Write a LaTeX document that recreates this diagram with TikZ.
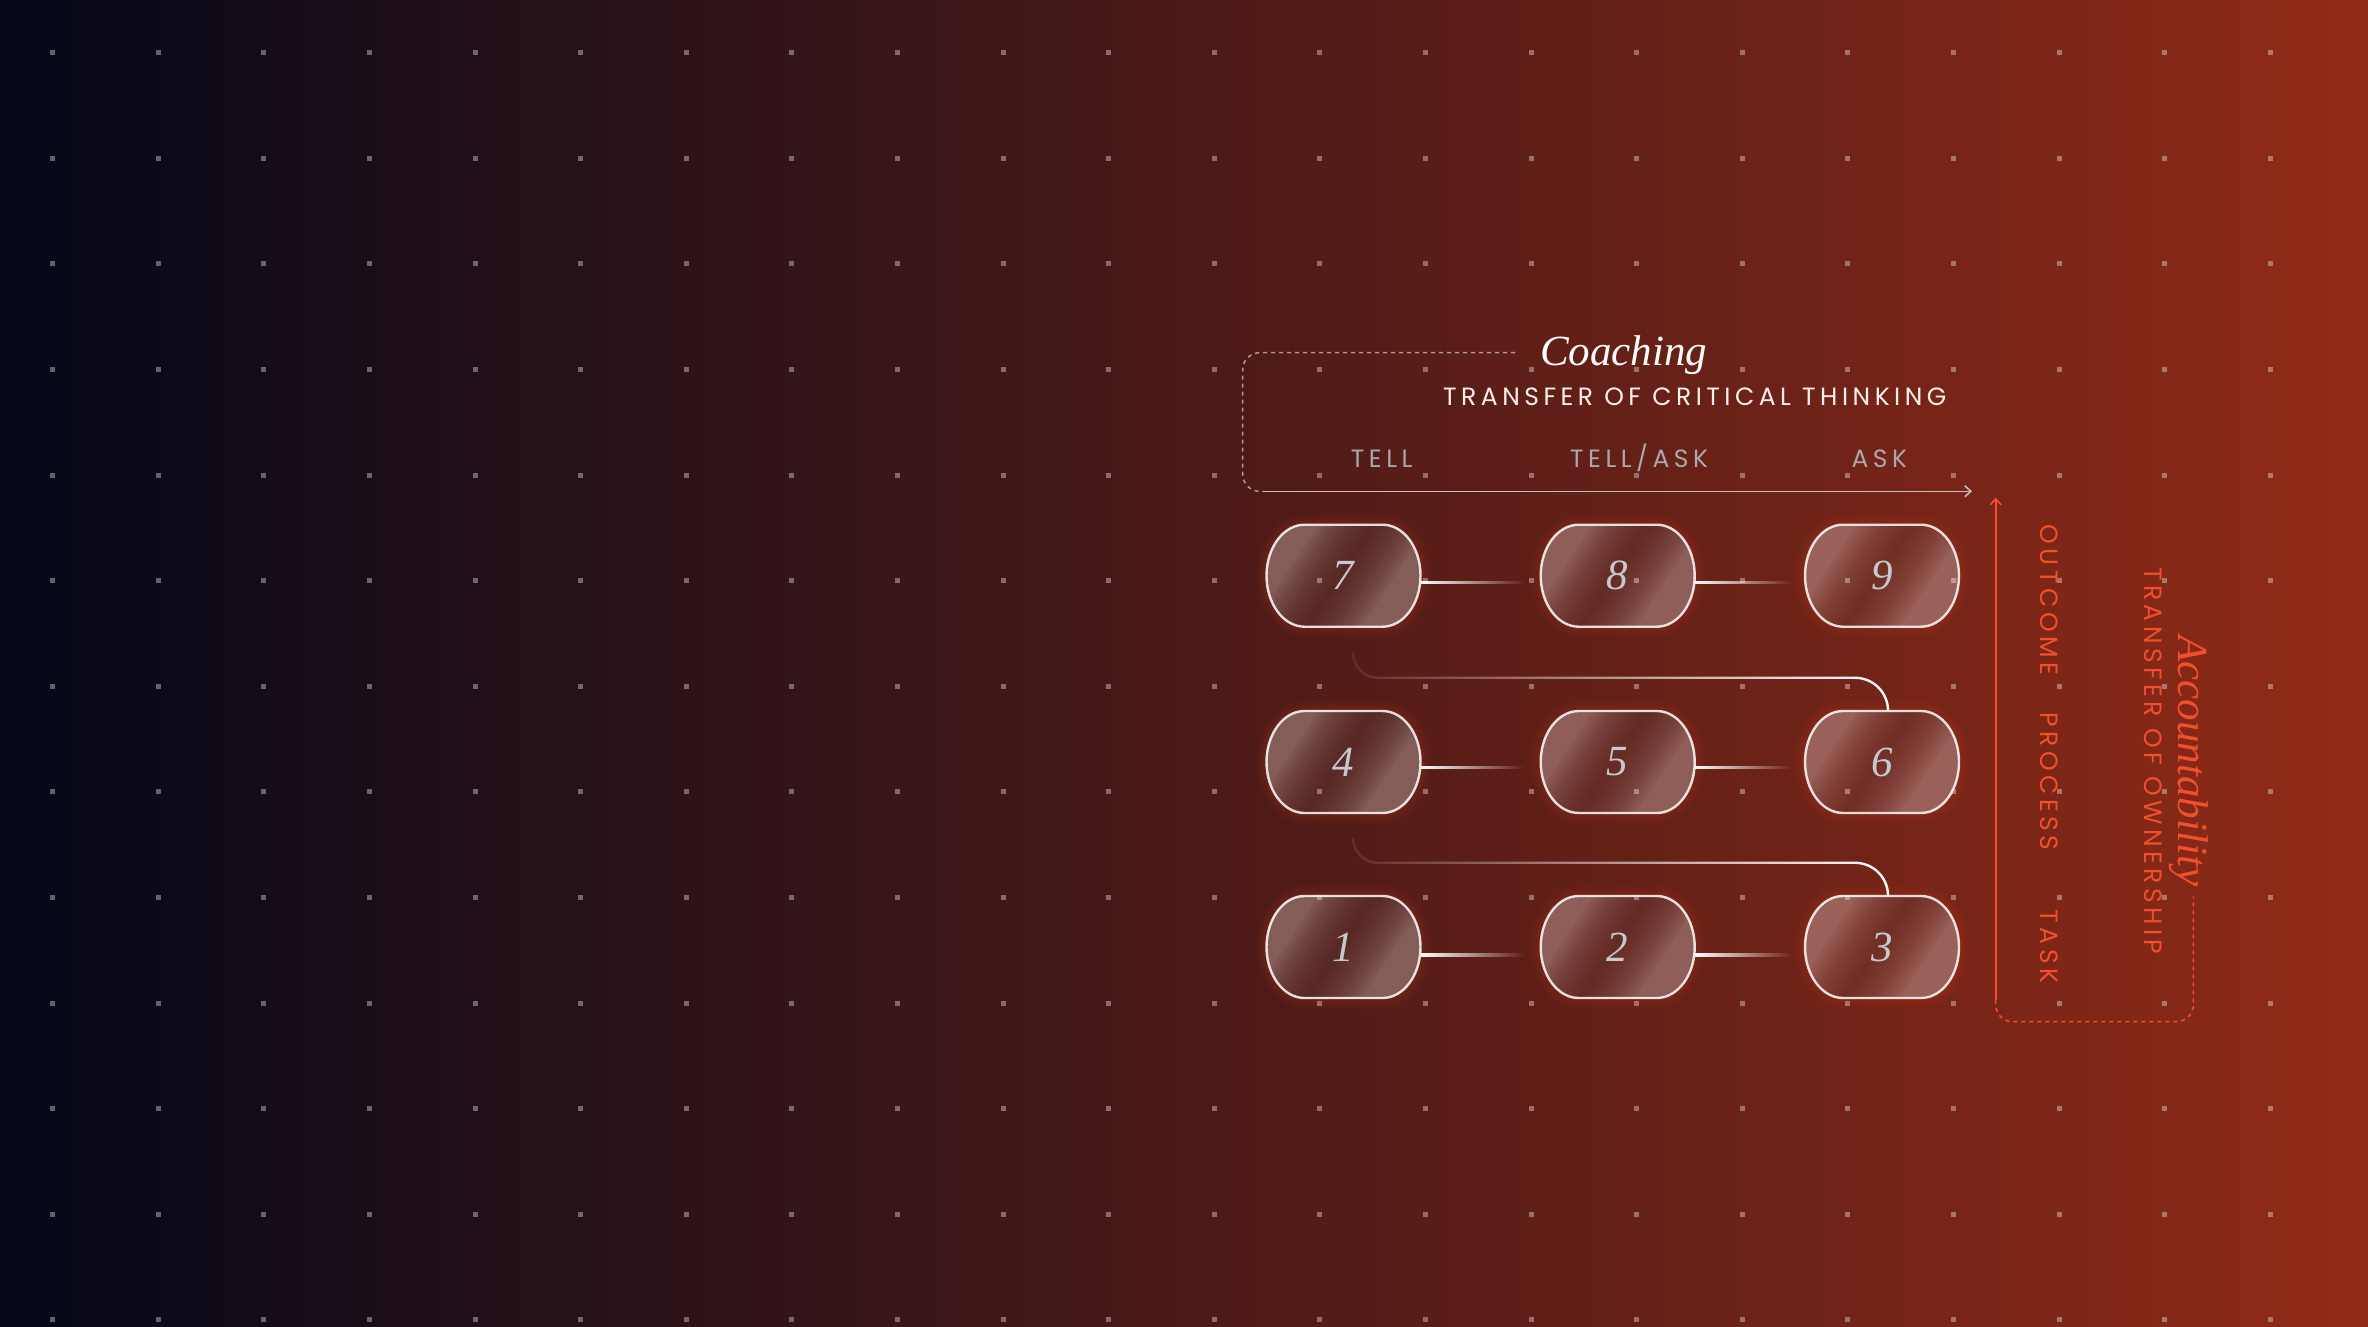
\documentclass[tikz,border=0pt]{standalone}
\usepackage{fontspec}
\setmainfont{Liberation Serif}
\newfontfamily\capsfont{Poppins}[LetterSpace=18]
\usetikzlibrary{arrows.meta,fadings,calc}
\definecolor{bgL}{HTML}{040818}
\definecolor{bgR}{HTML}{902B17}
\colorlet{bgca}{bgR!57!bgL}
\colorlet{bgcb}{bgR!68!bgL}
\colorlet{bgcc}{bgR!79!bgL}
\definecolor{numcol}{HTML}{C5C9CE}
\definecolor{redtxt}{HTML}{F2502C}
\definecolor{greytxt}{HTML}{ABA7AC}
\definecolor{glowcol}{HTML}{E0452A}
\definecolor{linegrey}{HTML}{C9BCBC}
\tikzfading[name=fadeoutright, left color=transparent!0, right color=transparent!100]
\tikzfading[name=fadeinright, left color=transparent!92, right color=transparent!0]
\newcommand\gshp[2]{(#1-39,#2+51) -- (#1+39,#2+51) arc[start angle=90,end angle=-90,x radius=38,y radius=51] -- (#1-39,#2-51) arc[start angle=270,end angle=90,x radius=38,y radius=51] -- cycle}
\newcommand\glassnode[5]{% name, x, y, label, local background colour
  \foreach \gw in {20,13,8}{\draw[glowcol, line width=\gw, draw opacity=0.05] \gshp{#2}{#3};}
  \begin{scope}
    \clip \gshp{#2}{#3};
    \fill[white!28!#5] (#2-80,#3-55) rectangle (#2+80,#3+55);
    \foreach \h in {3,7,...,55}{\fill[#5!90!black, fill opacity=0.085] (#2-43-\h,#3-60) -- (#2-43+\h,#3-60) -- (#2+36+\h,#3+60) -- (#2+36-\h,#3+60) -- cycle;}
  \end{scope}
  \draw[glassrim] \gshp{#2}{#3};
  \node[numtext] (#1) at (#2,#3) {#4};
}
\newcommand\rowlink[4]{% from node, to node, gap, y offset
  \begin{scope}
  \clip ($(#1.east)+(0,#4-1.2)$) rectangle ($(#2.west)+(-#3,#4+1.2)$);
  \fill[white, path fading=fadeoutright] ($(#1.east)+(0,#4-25)$) rectangle ($(#2.west)+(-#3,#4+25)$);
  \end{scope}}
\begin{document}
\begin{tikzpicture}[x=1pt,y=1pt,
  dotmark/.style={fill=white, fill opacity=0.36},
  glassrim/.style={draw=white, draw opacity=0.85, line width=2.4},
  numtext/.style={rectangle, minimum width=154, minimum height=102, inner sep=0, text=numcol, font=\fontsize{43}{45}\selectfont\itshape},
  coachtxt/.style={inner sep=0, text=white, font=\fontsize{43}{45}\selectfont\itshape},
  acctxt/.style={inner sep=0, text=redtxt, font=\fontsize{43}{45}\selectfont\itshape},
  capsw/.style={inner sep=0, text=white!94!red, font=\fontsize{25}{27}\selectfont\capsfont},
  capsg/.style={inner sep=0, text=greytxt, font=\fontsize{25}{27}\selectfont\capsfont},
  capsr/.style={inner sep=0, text=redtxt, font=\fontsize{25}{27}\selectfont\capsfont},
  snake/.style={draw=white, line width=2.4, path fading=fadeinright},
  greydash/.style={draw=linegrey, draw opacity=0.8, line width=1.5, dash pattern=on 4 off 4},
  greyline/.style={draw=linegrey, line width=1.6},
  redline/.style={draw=redtxt, line width=1.6},
  reddash/.style={draw=redtxt, line width=1.5, dash pattern=on 4 off 4},
  tip/.style={-{Straight Barb[length=6,width=11]}}
]
\useasboundingbox (0,0) rectangle (2368,-1327);
\shade[left color=bgL, right color=bgR] (0,0) rectangle (2368,-1327);
% nodes
\glassnode{n7}{1343.5}{-575.7}{7}{bgca}
\glassnode{n8}{1617.7}{-575.7}{8}{bgcb}
\glassnode{n9}{1882}{-575.7}{9}{bgcc}
\glassnode{n4}{1343.5}{-762}{4}{bgca}
\glassnode{n5}{1617.7}{-762}{5}{bgcb}
\glassnode{n6}{1882}{-762}{6}{bgcc}
\glassnode{n1}{1343.5}{-947}{1}{bgca}
\glassnode{n2}{1617.7}{-947}{2}{bgcb}
\glassnode{n3}{1882}{-947}{3}{bgcc}
% dot grid
\foreach \i in {0,...,21}{\foreach \j in {0,...,12}{
  \fill[dotmark] (52.7+105.6*\i-2.5, -52.7-105.6*\j-2.5) rectangle ++(5,5);
}}
% row links
\rowlink{n7}{n8}{16}{-7}
\rowlink{n8}{n9}{13}{-7}
\rowlink{n4}{n5}{16}{-5.7}
\rowlink{n5}{n6}{13}{-5.7}
\rowlink{n1}{n2}{16}{-8}
\rowlink{n2}{n3}{13}{-8}
% snake links
\draw[snake] ($(n6.north)+(6,0)$) arc[start angle=0,end angle=90,radius=33] -- ++(-477,0) arc[start angle=270,end angle=180,radius=25];
\draw[snake] ($(n3.north)+(6,0)$) arc[start angle=0,end angle=90,radius=33] -- ++(-477,0) arc[start angle=270,end angle=180,radius=25];
% header
\node[coachtxt, anchor=base west] (coach) at (1540,-365) {Coaching};
\node[capsw, anchor=base west] (tcrit) at (1443,-405) {TRANSFER OF CRITICAL THINKING};
\node[capsg, anchor=base west] (tell) at (1350.7,-467.3) {TELL};
\node[capsg, anchor=base west] (tellask) at (1570,-467.3) {TELL/ASK};
\node[capsg, anchor=base west] (ask) at (1851.4,-467.3) {ASK};
\coordinate (cdash) at (1515,-352.7);
\coordinate (cstart) at (1263,-491.3);
\coordinate (cend) at (1972,-491.3);
\draw[greydash, rounded corners=17] (cdash) -- (1242.7,-352.7) -- (1242.7,-491.3) -- (cstart);
\draw[greyline, tip] (cstart) -- (cend);
% accountability side
\coordinate (abot) at (1995.7,-1000);
\coordinate (atop) at (1995.7,-497.7);
\coordinate (adash) at (2193.3,-896.7);
\draw[redline, tip] (abot) -- (atop);
\draw[reddash, rounded corners=17] (abot) -- (1995.7,-1021.7) -- (2193.3,-1021.7) -- (adash);
\node[capsr, rotate=-90] (outcome) at (2049,-600) {OUTCOME};
\node[capsr, rotate=-90] (process) at (2049,-781.6) {PROCESS};
\node[capsr, rotate=-90] (task) at (2049,-946.7) {TASK};
\node[capsr, rotate=-90] (tow) at (2153.7,-760.8) {TRANSFER OF OWNERSHIP};
\node[acctxt, rotate=-90, anchor=base] (acct) at (2178.3,-760.8) {Accountability};
\end{tikzpicture}
\end{document}
